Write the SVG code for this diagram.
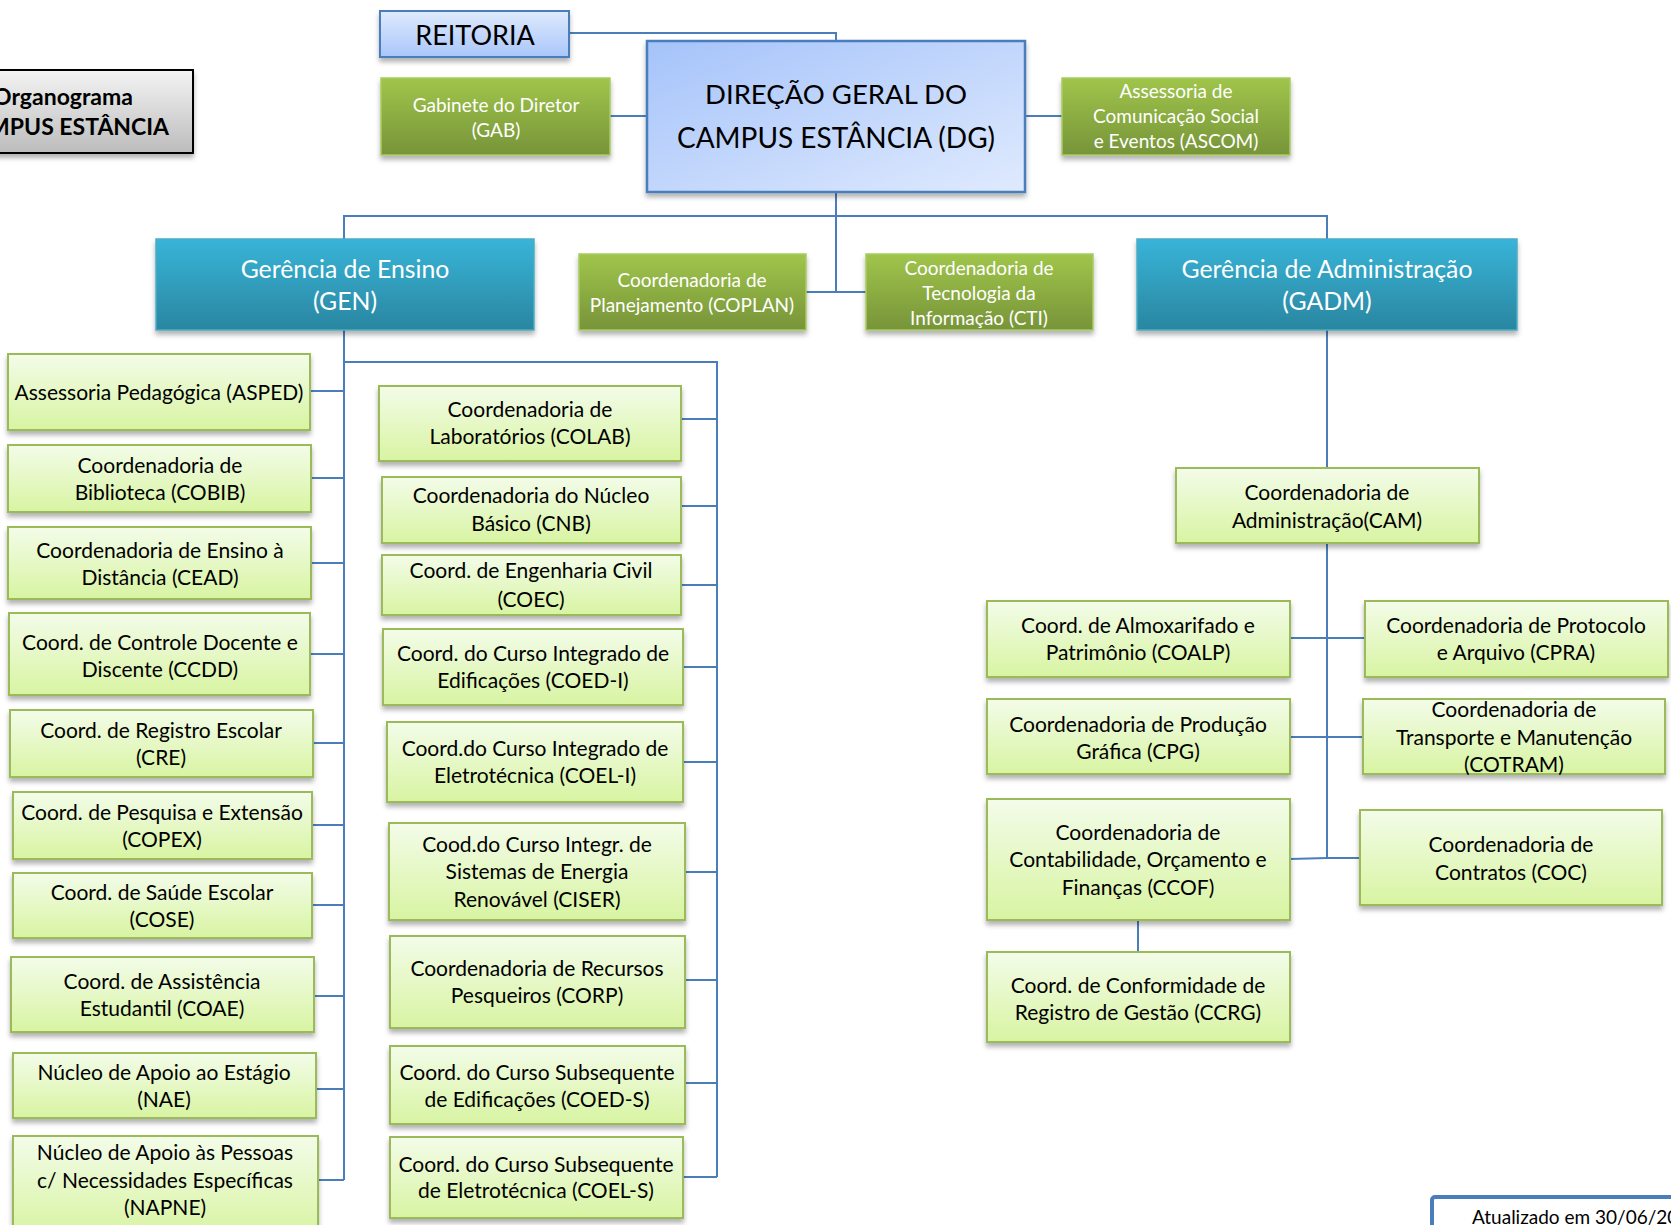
<svg xmlns="http://www.w3.org/2000/svg" width="1671" height="1225" viewBox="0 0 1671 1225">
<defs>
<linearGradient id="gLight" x1="0" y1="0" x2="0" y2="1"><stop offset="0" stop-color="#f3fce9"/><stop offset="1" stop-color="#d8f4a2"/></linearGradient>
<linearGradient id="gDark" x1="0" y1="0" x2="0" y2="1"><stop offset="0" stop-color="#a0c54b"/><stop offset="1" stop-color="#779439"/></linearGradient>
<linearGradient id="gTeal" x1="0" y1="0" x2="0" y2="1"><stop offset="0" stop-color="#38b4d8"/><stop offset="1" stop-color="#2a86a0"/></linearGradient>
<linearGradient id="gDG" x1="0" y1="0" x2="1" y2="1"><stop offset="0" stop-color="#a5c3fa"/><stop offset="1" stop-color="#dfeafe"/></linearGradient>
<linearGradient id="gRei" x1="0" y1="0" x2="0" y2="1"><stop offset="0" stop-color="#dfeafd"/><stop offset="1" stop-color="#a9c6fa"/></linearGradient>
<linearGradient id="gTitle" x1="0" y1="0" x2="0" y2="1"><stop offset="0" stop-color="#f4f4f4"/><stop offset="1" stop-color="#bcbcbc"/></linearGradient>
<filter id="sh" x="-10%" y="-10%" width="120%" height="130%"><feDropShadow dx="0" dy="4" stdDeviation="2.5" flood-color="#000" flood-opacity="0.3"/></filter>
</defs>
<style>
text{font-family:Lato,"Liberation Sans",sans-serif;text-anchor:middle}
.lg{fill:url(#gLight);stroke:#9bbb59;stroke-width:2;filter:url(#sh)}
.dg{fill:url(#gDark);stroke:#a9cb62;stroke-width:1.5;filter:url(#sh)}
.tl{fill:url(#gTeal);stroke:#4bacc6;stroke-width:1.5;filter:url(#sh)}
.lt{font-size:21px;fill:#000}
.wt{font-size:19px;fill:#fff}
.tt{font-size:24.8px;fill:#fff}
.cn{fill:none;stroke:#4a7ebb;stroke-width:2}
</style>

<g id="connectors" class="cn">
<path d="M569,33 H836 V41"/>
<path d="M610,116 H647"/>
<path d="M1025,116 H1062"/>
<path d="M836,192 V292"/>
<path d="M344,239 V216 H1327 V239"/>
<path d="M806,292 H866"/>
<path d="M344,330 V1180"/>
<path d="M310,391 H344 M311,478 H344 M311,563 H344 M310,654 H344 M313,743 H344 M312,825 H344 M312,905 H344 M314,996 H344 M316,1089 H344 M318,1180 H344"/>
<path d="M344,362 H717 V1177"/>
<path d="M681,419 H717 M681,506 H717 M681,585 H717 M683,667 H717 M683,762 H717 M685,872 H717 M685,980 H717 M685,1083 H717 M683,1177 H717"/>
<path d="M1327,330 V468"/>
<path d="M1327,543 V858"/>
<path d="M1290,638 H1365"/>
<path d="M1290,737 H1363"/>
<path d="M1290,859 L1327,858 H1360"/>
<path d="M1138,920 V952"/>
</g>

<g id="title">
<rect x="-70" y="70" width="263" height="83" fill="url(#gTitle)" stroke="#000" stroke-width="2" filter="url(#sh)"/>
<text x="63" y="105" font-size="23" font-weight="bold" fill="#000">Organograma</text>
<text x="63" y="135" font-size="23" font-weight="bold" fill="#000">CAMPUS ESTÂNCIA</text>
</g>

<g id="reitoria">
<rect x="380" y="11" width="189" height="46" fill="url(#gRei)" stroke="#4a7ebb" stroke-width="2" filter="url(#sh)"/>
<text x="475" y="45" font-size="27" fill="#000">REITORIA</text>
</g>

<g id="dg">
<rect x="647" y="41" width="378" height="151" fill="url(#gDG)" stroke="#4a7ebb" stroke-width="2.5" filter="url(#sh)"/>
<text x="836" y="104" font-size="27.5" fill="#000">DIREÇÃO GERAL DO</text>
<text x="836" y="148" font-size="28" fill="#000">CAMPUS ESTÂNCIA (DG)</text>
</g>

<g id="gab">
<rect class="dg" x="381" y="78" width="229" height="77"/>
<text class="wt" x="496" y="112">Gabinete do Diretor</text>
<text class="wt" x="496" y="137">(GAB)</text>
</g>

<g id="ascom">
<rect class="dg" x="1062" y="78" width="228" height="77"/>
<text class="wt" x="1176" y="98">Assessoria de</text>
<text class="wt" x="1176" y="123">Comunicação Social</text>
<text class="wt" x="1176" y="148">e Eventos (ASCOM)</text>
</g>

<g id="gen">
<rect class="tl" x="156" y="239" width="378" height="91"/>
<text class="tt" x="345" y="278">Gerência de Ensino</text>
<text class="tt" x="345" y="310">(GEN)</text>
</g>

<g id="coplan">
<rect class="dg" x="579" y="254" width="227" height="76"/>
<text class="wt" x="692" y="287">Coordenadoria de</text>
<text class="wt" x="692" y="312">Planejamento (COPLAN)</text>
</g>

<g id="cti">
<rect class="dg" x="866" y="254" width="227" height="76"/>
<text class="wt" x="979" y="275">Coordenadoria de</text>
<text class="wt" x="979" y="300">Tecnologia da</text>
<text class="wt" x="979" y="325">Informação (CTI)</text>
</g>

<g id="gadm">
<rect class="tl" x="1137" y="239" width="380" height="91"/>
<text class="tt" x="1327" y="278">Gerência de Administração</text>
<text class="tt" x="1327" y="310">(GADM)</text>
</g>

<g id="aspedg"><rect class="lg" x="8" y="354" width="302" height="76"/><text class="lt" x="159" y="400">Assessoria Pedagógica (ASPED)</text></g>
<g id="cobib"><rect class="lg" x="8" y="445" width="303" height="67"/><text class="lt" x="160" y="473">Coordenadoria de</text><text class="lt" x="160" y="500">Biblioteca (COBIB)</text></g>
<g id="cead"><rect class="lg" x="8" y="527" width="303" height="72"/><text class="lt" x="160" y="558">Coordenadoria de Ensino à</text><text class="lt" x="160" y="585">Distância (CEAD)</text></g>
<g id="ccdd"><rect class="lg" x="9" y="613" width="301" height="82"/><text class="lt" x="160" y="650">Coord. de Controle Docente e</text><text class="lt" x="160" y="677">Discente (CCDD)</text></g>
<g id="cre"><rect class="lg" x="10" y="710" width="303" height="67"/><text class="lt" x="161" y="738">Coord. de Registro Escolar</text><text class="lt" x="161" y="765">(CRE)</text></g>
<g id="copex"><rect class="lg" x="13" y="792" width="299" height="67"/><text class="lt" x="162" y="820">Coord. de Pesquisa e Extensão</text><text class="lt" x="162" y="847">(COPEX)</text></g>
<g id="cose"><rect class="lg" x="13" y="873" width="299" height="65"/><text class="lt" x="162" y="900">Coord. de Saúde Escolar</text><text class="lt" x="162" y="927">(COSE)</text></g>
<g id="coae"><rect class="lg" x="11" y="957" width="303" height="75"/><text class="lt" x="162" y="989">Coord. de Assistência</text><text class="lt" x="162" y="1016">Estudantil (COAE)</text></g>
<g id="nae"><rect class="lg" x="13" y="1053" width="303" height="65"/><text class="lt" x="164" y="1080">Núcleo de Apoio ao Estágio</text><text class="lt" x="164" y="1107">(NAE)</text></g>
<g id="napne"><rect class="lg" x="13" y="1136" width="305" height="100"/><text class="lt" x="165" y="1160">Núcleo de Apoio às Pessoas</text><text class="lt" x="165" y="1188">c/ Necessidades Específicas</text><text class="lt" x="165" y="1215">(NAPNE)</text></g>

<g id="colab"><rect class="lg" x="379" y="386" width="302" height="75"/><text class="lt" x="530" y="417">Coordenadoria de</text><text class="lt" x="530" y="444">Laboratórios (COLAB)</text></g>
<g id="cnb"><rect class="lg" x="382" y="477" width="299" height="66"/><text class="lt" x="531" y="503">Coordenadoria do Núcleo</text><text class="lt" x="531" y="531">Básico (CNB)</text></g>
<g id="coec"><rect class="lg" x="382" y="555" width="299" height="60"/><text class="lt" x="531" y="578">Coord. de Engenharia Civil</text><text class="lt" x="531" y="607">(COEC)</text></g>
<g id="coedi"><rect class="lg" x="383" y="629" width="300" height="76"/><text class="lt" x="533" y="661">Coord. do Curso Integrado de</text><text class="lt" x="533" y="688">Edificações (COED-I)</text></g>
<g id="coeli"><rect class="lg" x="387" y="722" width="296" height="80"/><text class="lt" x="535" y="756">Coord.do Curso Integrado de</text><text class="lt" x="535" y="783">Eletrotécnica (COEL-I)</text></g>
<g id="ciser"><rect class="lg" x="389" y="823" width="296" height="97"/><text class="lt" x="537" y="852">Cood.do Curso Integr. de</text><text class="lt" x="537" y="879">Sistemas de Energia</text><text class="lt" x="537" y="907">Renovável (CISER)</text></g>
<g id="corp"><rect class="lg" x="390" y="936" width="295" height="92"/><text class="lt" x="537" y="976">Coordenadoria de Recursos</text><text class="lt" x="537" y="1003">Pesqueiros (CORP)</text></g>
<g id="coeds"><rect class="lg" x="390" y="1046" width="295" height="78"/><text class="lt" x="537" y="1080">Coord. do Curso Subsequente</text><text class="lt" x="537" y="1107">de Edificações (COED-S)</text></g>
<g id="coels"><rect class="lg" x="390" y="1137" width="293" height="81"/><text class="lt" x="536" y="1172">Coord. do Curso Subsequente</text><text class="lt" x="536" y="1198">de Eletrotécnica (COEL-S)</text></g>

<g id="cam"><rect class="lg" x="1176" y="468" width="303" height="75"/><text class="lt" x="1327" y="500">Coordenadoria de</text><text class="lt" x="1327" y="528">Administração(CAM)</text></g>
<g id="coalp"><rect class="lg" x="987" y="601" width="303" height="76"/><text class="lt" x="1138" y="633">Coord. de Almoxarifado e</text><text class="lt" x="1138" y="660">Patrimônio (COALP)</text></g>
<g id="cpra"><rect class="lg" x="1365" y="601" width="303" height="76"/><text class="lt" x="1516" y="633">Coordenadoria de Protocolo</text><text class="lt" x="1516" y="660">e Arquivo (CPRA)</text></g>
<g id="cpg"><rect class="lg" x="987" y="699" width="303" height="75"/><text class="lt" x="1138" y="732">Coordenadoria de Produção</text><text class="lt" x="1138" y="759">Gráfica (CPG)</text></g>
<g id="cotram"><rect class="lg" x="1363" y="699" width="302" height="75"/><text class="lt" x="1514" y="717">Coordenadoria de</text><text class="lt" x="1514" y="745">Transporte e Manutenção</text><text class="lt" x="1514" y="772">(COTRAM)</text></g>
<g id="ccof"><rect class="lg" x="987" y="799" width="303" height="121"/><text class="lt" x="1138" y="840">Coordenadoria de</text><text class="lt" x="1138" y="867">Contabilidade, Orçamento e</text><text class="lt" x="1138" y="895">Finanças (CCOF)</text></g>
<g id="coc"><rect class="lg" x="1360" y="810" width="302" height="95"/><text class="lt" x="1511" y="852">Coordenadoria de</text><text class="lt" x="1511" y="880">Contratos (COC)</text></g>
<g id="ccrg"><rect class="lg" x="987" y="952" width="303" height="90"/><text class="lt" x="1138" y="993">Coord. de Conformidade de</text><text class="lt" x="1138" y="1020">Registro de Gestão (CCRG)</text></g>

<g id="atualizado">
<rect x="1432" y="1197" width="300" height="60" rx="3" fill="#fff" stroke="#4a7ebb" stroke-width="4"/>
<text x="1472" y="1224" font-size="19" fill="#000" style="text-anchor:start">Atualizado em 30/06/20</text>
</g>
</svg>
